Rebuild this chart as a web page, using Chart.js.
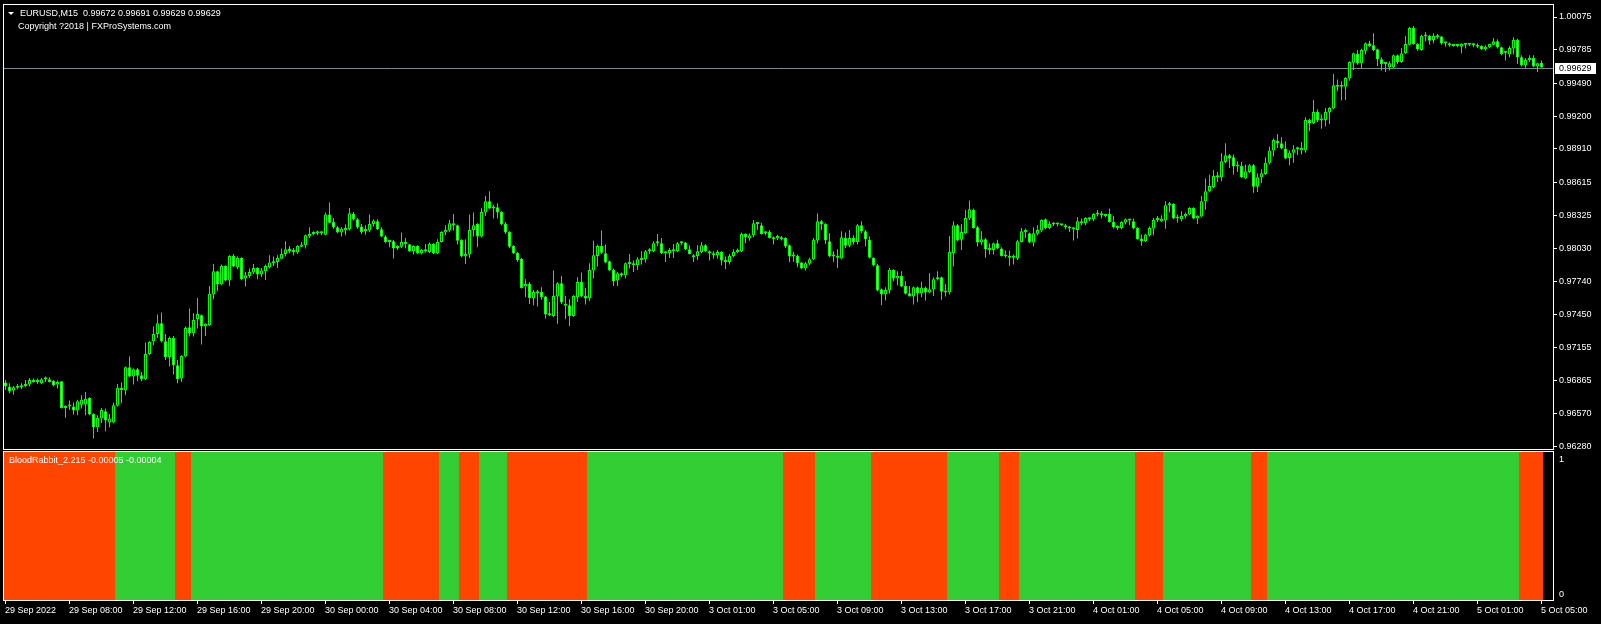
<!DOCTYPE html>
<html>
<head>
<meta charset="utf-8">
<title>EURUSD,M15</title>
<script src="https://cdn.jsdelivr.net/npm/chart.js@4.4.1/dist/chart.umd.min.js"></script>
<style>
  html, body { margin: 0; padding: 0; background: #000; overflow: hidden; }
  body { width: 1601px; height: 624px; position: relative; font-family: "Liberation Sans", Arial, sans-serif; }
  canvas { position: absolute; left: 0; }
  #main { top: -20px; }
  #sub { top: 431px; }
  .lbl { position: absolute; color: #fff; font-size: 9px; line-height: 11px; white-space: pre; }
  .tri { position: absolute; left: 8px; top: 12px; width: 0; height: 0;
         border-left: 3px solid transparent; border-right: 3px solid transparent; border-top: 3px solid #fff; }
</style>
</head>
<body>
<canvas id="main" width="1601" height="492"></canvas>
<canvas id="sub" width="1601" height="193"></canvas>
<div class="tri"></div>
<div class="lbl" style="left:20px;top:8px">EURUSD,M15  0.99672 0.99691 0.99629 0.99629</div>
<div class="lbl" style="left:18px;top:21px">Copyright ?2018 | FXProSystems.com</div>
<div class="lbl" style="left:9px;top:455px">BloodRabbit_2.215 -0.00005 -0.00004</div>
<script>
// EURUSD M15 bars, 29 Sep 04:00 -> 5 Oct 05:00
const opens = [
  0.96847,0.96811,0.96776,0.96800,0.96805,0.96817,0.96829,0.96870,0.96852,0.96841,
  0.96876,0.96876,0.96861,0.96829,0.96858,0.96623,0.96635,0.96635,0.96600,0.96650,
  0.96653,0.96711,0.96570,0.96452,0.96529,0.96594,0.96494,0.96494,0.96641,0.96800,
  0.96776,0.96982,0.96900,0.96964,0.96911,0.96876,0.97100,0.97212,0.97276,0.97371,
  0.97212,0.97070,0.97241,0.97000,0.96882,0.97076,0.97335,0.97282,0.97406,0.97441,
  0.97341,0.97353,0.97624,0.97830,0.97712,0.97877,0.97747,0.97965,0.97865,0.97947,
  0.97765,0.97788,0.97818,0.97859,0.97800,0.97830,0.97865,0.97900,0.97912,0.97941,
  0.97983,0.98030,0.98006,0.97995,0.98047,0.98059,0.98136,0.98159,0.98177,0.98165,
  0.98153,0.98330,0.98265,0.98218,0.98171,0.98189,0.98200,0.98336,0.98289,0.98224,
  0.98186,0.98189,0.98248,0.98271,0.98200,0.98136,0.98100,0.98094,0.98053,0.98047,
  0.98089,0.98068,0.98006,0.98053,0.97989,0.98018,0.98000,0.98071,0.97989,0.98089,
  0.98171,0.98189,0.98253,0.98236,0.98106,0.97959,0.97977,0.98195,0.98248,0.98136,
  0.98348,0.98448,0.98383,0.98395,0.98353,0.98248,0.98177,0.98053,0.97994,0.97941,
  0.97694,0.97718,0.97588,0.97647,0.97647,0.97606,0.97447,0.97435,0.97606,0.97724,
  0.97535,0.97529,0.97435,0.97600,0.97735,0.97612,0.97588,0.97836,0.97965,0.98053,
  0.97989,0.97918,0.97841,0.97747,0.97812,0.97794,0.97900,0.97900,0.97883,0.97936,
  0.97936,0.98006,0.98006,0.98077,0.98077,0.97989,0.97989,0.98018,0.98006,0.98077,
  0.98083,0.98024,0.97971,0.97965,0.98000,0.98059,0.98006,0.97989,0.97971,0.98000,
  0.97930,0.97912,0.97965,0.98000,0.98006,0.98159,0.98118,0.98147,0.98253,0.98236,
  0.98165,0.98177,0.98124,0.98118,0.98112,0.98124,0.98059,0.97959,0.97965,0.97907,
  0.97854,0.97895,0.97936,0.98101,0.98271,0.98248,0.98095,0.97959,0.97948,0.97942,
  0.98124,0.98054,0.98124,0.98089,0.98236,0.98183,0.98107,0.97948,0.97883,0.97671,
  0.97624,0.97659,0.97842,0.97765,0.97789,0.97700,0.97636,0.97606,0.97689,0.97636,
  0.97683,0.97642,0.97671,0.97759,0.97777,0.97642,0.97642,0.97989,0.98236,0.98107,
  0.98165,0.98295,0.98371,0.98218,0.98083,0.98112,0.98030,0.98018,0.98077,0.98030,
  0.97977,0.97965,0.97948,0.97942,0.98089,0.98177,0.98165,0.98083,0.98160,0.98189,
  0.98289,0.98212,0.98242,0.98254,0.98248,0.98236,0.98218,0.98212,0.98195,0.98271,
  0.98254,0.98289,0.98289,0.98330,0.98342,0.98330,0.98336,0.98265,0.98224,0.98212,
  0.98260,0.98289,0.98271,0.98212,0.98118,0.98095,0.98148,0.98207,0.98283,0.98271,
  0.98277,0.98413,0.98424,0.98295,0.98289,0.98313,0.98330,0.98389,0.98295,0.98313,
  0.98448,0.98536,0.98572,0.98665,0.98660,0.98795,0.98854,0.98836,0.98754,0.98760,
  0.98648,0.98707,0.98766,0.98577,0.98660,0.98689,0.98789,0.98895,0.98983,0.98960,
  0.98913,0.98830,0.98877,0.98907,0.98895,0.98895,0.99165,0.99136,0.99236,0.99160,
  0.99165,0.99231,0.99266,0.99472,0.99460,0.99460,0.99531,0.99672,0.99749,0.99666,
  0.99778,0.99843,0.99825,0.99790,0.99701,0.99660,0.99631,0.99631,0.99737,0.99678,
  0.99754,0.99831,0.99978,0.99837,0.99784,0.99902,0.99908,0.99872,0.99908,0.99902,
  0.99843,0.99831,0.99825,0.99819,0.99813,0.99837,0.99831,0.99837,0.99813,0.99819,
  0.99790,0.99808,0.99831,0.99860,0.99808,0.99760,0.99743,0.99796,0.99872,0.99719,
  0.99649,0.99695,0.99713,0.99637,0.99672
];
const highs = [
  0.96870,0.96841,0.96817,0.96835,0.96841,0.96870,0.96888,0.96882,0.96882,0.96888,
  0.96900,0.96894,0.96870,0.96864,0.96861,0.96647,0.96688,0.96670,0.96694,0.96735,
  0.96764,0.96717,0.96576,0.96559,0.96623,0.96617,0.96570,0.96670,0.96835,0.96847,
  0.96988,0.97076,0.96970,0.96976,0.96941,0.97200,0.97212,0.97341,0.97447,0.97465,
  0.97276,0.97253,0.97259,0.97047,0.97088,0.97341,0.97500,0.97459,0.97594,0.97447,
  0.97371,0.97700,0.97894,0.97836,0.97889,0.97883,0.97971,0.97983,0.97959,0.97953,
  0.97824,0.97853,0.97894,0.97865,0.97859,0.97889,0.97971,0.97959,0.97971,0.98030,
  0.98094,0.98053,0.98036,0.98059,0.98089,0.98153,0.98218,0.98183,0.98189,0.98183,
  0.98348,0.98436,0.98300,0.98230,0.98218,0.98242,0.98389,0.98353,0.98300,0.98248,
  0.98236,0.98330,0.98289,0.98289,0.98218,0.98147,0.98106,0.98106,0.98059,0.98171,
  0.98124,0.98071,0.98059,0.98059,0.98024,0.98071,0.98083,0.98077,0.98112,0.98183,
  0.98236,0.98283,0.98336,0.98242,0.98112,0.98112,0.98330,0.98348,0.98253,0.98389,
  0.98495,0.98536,0.98418,0.98430,0.98359,0.98265,0.98183,0.98059,0.98000,0.97947,
  0.97759,0.97735,0.97665,0.97665,0.97688,0.97612,0.97559,0.97836,0.97735,0.97788,
  0.97612,0.97582,0.97618,0.97777,0.97818,0.97682,0.97900,0.98100,0.98065,0.98189,
  0.98065,0.97924,0.97853,0.97824,0.97818,0.97906,0.97983,0.97924,0.97953,0.98006,
  0.98018,0.98036,0.98094,0.98159,0.98124,0.98006,0.98036,0.98071,0.98089,0.98094,
  0.98089,0.98059,0.97983,0.98059,0.98089,0.98071,0.98012,0.98006,0.98018,0.98006,
  0.97959,0.97983,0.98024,0.98030,0.98171,0.98165,0.98165,0.98283,0.98265,0.98259,
  0.98183,0.98195,0.98136,0.98153,0.98142,0.98130,0.98065,0.98001,0.97977,0.97912,
  0.97912,0.97948,0.98124,0.98342,0.98283,0.98254,0.98165,0.98006,0.98024,0.98183,
  0.98171,0.98195,0.98148,0.98248,0.98271,0.98195,0.98136,0.97954,0.97895,0.97677,
  0.97689,0.97859,0.97848,0.97830,0.97830,0.97742,0.97700,0.97695,0.97695,0.97736,
  0.97695,0.97812,0.97777,0.97830,0.97783,0.97718,0.98142,0.98271,0.98248,0.98248,
  0.98371,0.98454,0.98383,0.98230,0.98183,0.98124,0.98077,0.98083,0.98107,0.98042,
  0.98012,0.98012,0.97977,0.98107,0.98212,0.98207,0.98171,0.98218,0.98236,0.98289,
  0.98295,0.98271,0.98265,0.98260,0.98248,0.98248,0.98230,0.98218,0.98307,0.98295,
  0.98307,0.98307,0.98342,0.98371,0.98360,0.98336,0.98383,0.98318,0.98236,0.98271,
  0.98295,0.98289,0.98295,0.98218,0.98154,0.98160,0.98224,0.98301,0.98318,0.98324,
  0.98448,0.98442,0.98430,0.98330,0.98360,0.98348,0.98395,0.98395,0.98324,0.98495,
  0.98648,0.98683,0.98724,0.98707,0.98871,0.98960,0.98866,0.98860,0.98801,0.98795,
  0.98772,0.98777,0.98777,0.98695,0.98730,0.98836,0.98930,0.99001,0.99042,0.99013,
  0.98977,0.98895,0.98942,0.98930,0.98972,0.99189,0.99177,0.99342,0.99260,0.99213,
  0.99272,0.99278,0.99572,0.99524,0.99507,0.99542,0.99684,0.99760,0.99784,0.99795,
  0.99849,0.99866,0.99931,0.99795,0.99719,0.99672,0.99684,0.99743,0.99743,0.99802,
  0.99908,0.99990,0.99996,0.99843,0.99919,0.99943,0.99919,0.99931,0.99925,0.99908,
  0.99855,0.99849,0.99831,0.99837,0.99843,0.99843,0.99843,0.99843,0.99843,0.99825,
  0.99825,0.99837,0.99890,0.99878,0.99813,0.99778,0.99819,0.99896,0.99884,0.99737,
  0.99713,0.99737,0.99737,0.99672,0.99691
];
const lows = [
  0.96782,0.96753,0.96738,0.96788,0.96788,0.96805,0.96811,0.96847,0.96835,0.96835,
  0.96852,0.96847,0.96811,0.96794,0.96617,0.96535,0.96605,0.96564,0.96559,0.96617,
  0.96559,0.96559,0.96352,0.96411,0.96488,0.96417,0.96452,0.96488,0.96635,0.96664,
  0.96735,0.96894,0.96829,0.96858,0.96858,0.96870,0.97088,0.97177,0.97241,0.97200,
  0.97047,0.96988,0.96917,0.96841,0.96852,0.97070,0.97253,0.97253,0.97324,0.97182,
  0.97259,0.97347,0.97582,0.97653,0.97706,0.97741,0.97700,0.97865,0.97847,0.97753,
  0.97694,0.97771,0.97806,0.97759,0.97777,0.97753,0.97853,0.97877,0.97859,0.97936,
  0.97959,0.97989,0.97971,0.97983,0.98042,0.98030,0.98124,0.98147,0.98147,0.98147,
  0.98147,0.98253,0.98206,0.98165,0.98136,0.98147,0.98189,0.98277,0.98206,0.98159,
  0.98153,0.98177,0.98224,0.98195,0.98130,0.98077,0.98042,0.97942,0.98018,0.98036,
  0.98030,0.98000,0.97977,0.97983,0.97977,0.97994,0.97989,0.97983,0.97983,0.98083,
  0.98147,0.98177,0.98189,0.98065,0.97953,0.97894,0.97947,0.98136,0.98042,0.98130,
  0.98318,0.98377,0.98295,0.98295,0.98236,0.98159,0.98036,0.97983,0.97912,0.97677,
  0.97600,0.97541,0.97529,0.97518,0.97577,0.97412,0.97435,0.97423,0.97365,0.97541,
  0.97406,0.97347,0.97429,0.97559,0.97600,0.97535,0.97565,0.97765,0.97871,0.97983,
  0.97900,0.97830,0.97700,0.97700,0.97777,0.97765,0.97853,0.97824,0.97841,0.97889,
  0.97906,0.97983,0.98000,0.98053,0.97983,0.97912,0.97947,0.97947,0.98000,0.98059,
  0.98018,0.97977,0.97912,0.97930,0.97989,0.98000,0.97924,0.97941,0.97941,0.97883,
  0.97847,0.97889,0.97953,0.97989,0.98000,0.98077,0.98100,0.98130,0.98195,0.98153,
  0.98147,0.98118,0.98065,0.98106,0.98101,0.98036,0.97912,0.97912,0.97865,0.97848,
  0.97836,0.97883,0.97930,0.98077,0.98195,0.98071,0.97954,0.97912,0.97859,0.97936,
  0.98036,0.98042,0.98065,0.98065,0.98165,0.98048,0.97942,0.97871,0.97653,0.97530,
  0.97571,0.97630,0.97742,0.97706,0.97689,0.97624,0.97606,0.97536,0.97559,0.97600,
  0.97571,0.97636,0.97612,0.97748,0.97577,0.97606,0.97624,0.97871,0.98095,0.98018,
  0.98160,0.98283,0.98207,0.98048,0.98059,0.97948,0.97977,0.97977,0.98024,0.97959,
  0.97948,0.97877,0.97889,0.97930,0.98083,0.98124,0.98077,0.98048,0.98148,0.98177,
  0.98201,0.98201,0.98230,0.98224,0.98230,0.98201,0.98177,0.98101,0.98118,0.98236,
  0.98236,0.98271,0.98271,0.98313,0.98295,0.98307,0.98260,0.98207,0.98195,0.98201,
  0.98242,0.98236,0.98201,0.98107,0.98054,0.98089,0.98136,0.98148,0.98265,0.98265,
  0.98206,0.98348,0.98289,0.98260,0.98271,0.98295,0.98324,0.98289,0.98248,0.98307,
  0.98372,0.98530,0.98566,0.98619,0.98625,0.98783,0.98742,0.98683,0.98707,0.98654,
  0.98642,0.98695,0.98524,0.98530,0.98607,0.98683,0.98772,0.98842,0.98919,0.98907,
  0.98819,0.98766,0.98789,0.98854,0.98860,0.98877,0.99066,0.99130,0.99148,0.99089,
  0.99107,0.99130,0.99260,0.99419,0.99337,0.99342,0.99513,0.99607,0.99654,0.99625,
  0.99743,0.99808,0.99772,0.99642,0.99602,0.99590,0.99602,0.99625,0.99660,0.99672,
  0.99749,0.99825,0.99831,0.99778,0.99778,0.99860,0.99831,0.99843,0.99884,0.99831,
  0.99813,0.99813,0.99813,0.99808,0.99754,0.99796,0.99819,0.99808,0.99802,0.99784,
  0.99778,0.99802,0.99825,0.99796,0.99737,0.99690,0.99719,0.99743,0.99660,0.99637,
  0.99625,0.99678,0.99631,0.99590,0.99629
];
const closes = [
  0.96811,0.96767,0.96805,0.96817,0.96823,0.96832,0.96870,0.96852,0.96870,0.96876,
  0.96888,0.96852,0.96823,0.96852,0.96623,0.96635,0.96641,0.96600,0.96682,0.96694,
  0.96703,0.96564,0.96452,0.96535,0.96605,0.96511,0.96529,0.96647,0.96800,0.96782,
  0.96982,0.96900,0.96964,0.96906,0.96876,0.97100,0.97206,0.97276,0.97371,0.97212,
  0.97070,0.97241,0.97000,0.96876,0.97082,0.97329,0.97282,0.97400,0.97453,0.97341,
  0.97365,0.97630,0.97830,0.97712,0.97877,0.97747,0.97965,0.97871,0.97947,0.97759,
  0.97794,0.97824,0.97859,0.97800,0.97836,0.97877,0.97906,0.97918,0.97947,0.97983,
  0.98024,0.98006,0.98000,0.98053,0.98065,0.98147,0.98159,0.98171,0.98165,0.98171,
  0.98330,0.98259,0.98218,0.98171,0.98206,0.98212,0.98342,0.98289,0.98218,0.98177,
  0.98195,0.98248,0.98277,0.98200,0.98136,0.98089,0.98089,0.98030,0.98030,0.98089,
  0.98071,0.98006,0.98053,0.97989,0.98018,0.98006,0.98071,0.97989,0.98089,0.98177,
  0.98195,0.98253,0.98236,0.98100,0.97959,0.97983,0.98195,0.98236,0.98136,0.98353,
  0.98448,0.98383,0.98401,0.98348,0.98242,0.98171,0.98047,0.97989,0.97930,0.97682,
  0.97718,0.97594,0.97647,0.97635,0.97600,0.97447,0.97441,0.97612,0.97724,0.97553,
  0.97524,0.97435,0.97612,0.97735,0.97606,0.97588,0.97841,0.97971,0.98053,0.97994,
  0.97906,0.97836,0.97741,0.97812,0.97794,0.97900,0.97894,0.97883,0.97936,0.97930,
  0.98006,0.98012,0.98077,0.98083,0.97989,0.97994,0.98018,0.98006,0.98077,0.98083,
  0.98024,0.97983,0.97953,0.98006,0.98059,0.98006,0.97989,0.97971,0.98000,0.97924,
  0.97912,0.97965,0.98000,0.98012,0.98159,0.98130,0.98147,0.98253,0.98248,0.98159,
  0.98177,0.98124,0.98112,0.98142,0.98124,0.98048,0.97959,0.97965,0.97901,0.97854,
  0.97901,0.97936,0.98107,0.98271,0.98242,0.98101,0.97959,0.97965,0.97965,0.98130,
  0.98054,0.98124,0.98089,0.98236,0.98183,0.98112,0.97948,0.97883,0.97659,0.97624,
  0.97665,0.97842,0.97765,0.97789,0.97695,0.97630,0.97606,0.97689,0.97636,0.97683,
  0.97642,0.97671,0.97759,0.97771,0.97648,0.97653,0.98001,0.98236,0.98101,0.98177,
  0.98301,0.98377,0.98212,0.98083,0.98112,0.98024,0.98018,0.98077,0.98030,0.97965,
  0.97959,0.97948,0.97954,0.98095,0.98183,0.98189,0.98083,0.98165,0.98195,0.98283,
  0.98212,0.98248,0.98260,0.98242,0.98236,0.98218,0.98207,0.98201,0.98271,0.98254,
  0.98301,0.98301,0.98336,0.98342,0.98324,0.98318,0.98265,0.98218,0.98212,0.98265,
  0.98289,0.98277,0.98207,0.98112,0.98095,0.98154,0.98212,0.98283,0.98295,0.98295,
  0.98413,0.98424,0.98295,0.98307,0.98318,0.98336,0.98389,0.98295,0.98318,0.98448,
  0.98536,0.98583,0.98671,0.98660,0.98801,0.98854,0.98825,0.98754,0.98760,0.98660,
  0.98713,0.98766,0.98577,0.98660,0.98695,0.98789,0.98895,0.98989,0.98960,0.98913,
  0.98825,0.98877,0.98907,0.98913,0.98919,0.99165,0.99136,0.99236,0.99160,0.99177,
  0.99236,0.99272,0.99472,0.99460,0.99466,0.99536,0.99678,0.99754,0.99666,0.99784,
  0.99843,0.99819,0.99784,0.99701,0.99660,0.99666,0.99666,0.99737,0.99678,0.99754,
  0.99837,0.99978,0.99837,0.99790,0.99908,0.99914,0.99866,0.99908,0.99896,0.99843,
  0.99855,0.99825,0.99819,0.99831,0.99837,0.99831,0.99837,0.99825,0.99831,0.99790,
  0.99813,0.99837,0.99860,0.99808,0.99749,0.99772,0.99802,0.99872,0.99719,0.99649,
  0.99695,0.99713,0.99637,0.99666,0.99629
];

// price scale labels on the right
const priceTicks = [1.00075, 0.99785, 0.99490, 0.99200, 0.98910, 0.98615, 0.98325,
                    0.98030, 0.97740, 0.97450, 0.97155, 0.96865, 0.96570, 0.96280];
const priceMin = 0.96260, priceMax = 1.00181;

// time labels, one every 16 bars
const labelStep = 16;
const timeLabels = ['29 Sep 2022', '29 Sep 08:00', '29 Sep 12:00', '29 Sep 16:00', '29 Sep 20:00',
  '30 Sep 00:00', '30 Sep 04:00', '30 Sep 08:00', '30 Sep 12:00', '30 Sep 16:00', '30 Sep 20:00',
  '3 Oct 01:00', '3 Oct 05:00', '3 Oct 09:00', '3 Oct 13:00', '3 Oct 17:00', '3 Oct 21:00',
  '4 Oct 01:00', '4 Oct 05:00', '4 Oct 09:00', '4 Oct 13:00', '4 Oct 17:00', '4 Oct 21:00',
  '5 Oct 01:00', '5 Oct 05:00'];

// BloodRabbit signal: [state, number of bars], 1 = up (green), 0 = down (red)
const signalRuns = [[0,28],[1,15],[0,4],[1,48],[0,14],[1,5],[0,5],[1,7],[0,20],[1,49],[0,8],
  [1,14],[0,19],[1,13],[0,5],[1,29],[0,7],[1,22],[0,4],[1,63],[0,6]];

const LIME = '#00ff00', UP = '#32cd32', DOWN = '#ff4500';
const FONT = '"Liberation Sans", Arial, sans-serif';
Chart.defaults.font.family = FONT;
Chart.defaults.font.size = 9;
Chart.defaults.color = '#ffffff';

const n = closes.length;
const idx = closes.map((_, i) => i);
const signal = [];
signalRuns.forEach(([s, len]) => { for (let k = 0; k < len; k++) signal.push(s); });
const lastPrice = closes[n - 1];

// white frame round the plot area
const frame = {
  id: 'frame',
  afterDatasetsDraw(chart) {
    const { ctx, chartArea: a } = chart;
    ctx.save();
    ctx.strokeStyle = '#ffffff';
    ctx.lineWidth = 1;
    ctx.strokeRect(a.left - 0.5, a.top - 0.5, a.right - a.left + 1, a.bottom - a.top + 1);
    ctx.restore();
  }
};

// bid line and price tag
const bidLine = {
  id: 'bidLine',
  beforeDatasetsDraw(chart) {
    const { ctx, chartArea: a } = chart;
    const y = Math.round(chart.scales.y.getPixelForValue(lastPrice)) + 0.5;
    ctx.save();
    ctx.strokeStyle = '#778899';
    ctx.lineWidth = 1;
    ctx.beginPath();
    ctx.moveTo(a.left, y);
    ctx.lineTo(a.right, y);
    ctx.stroke();
    ctx.restore();
  },
  afterDraw(chart) {
    const { ctx, chartArea: a } = chart;
    const y = Math.round(chart.scales.y.getPixelForValue(lastPrice));
    ctx.save();
    ctx.fillStyle = '#ffffff';
    ctx.fillRect(a.right + 2, y - 5, 41, 11);
    ctx.fillStyle = '#000000';
    ctx.font = '9px ' + FONT;
    ctx.textBaseline = 'middle';
    ctx.fillText(lastPrice.toFixed(5), a.right + 6, y + 0.5);
    ctx.restore();
  }
};

new Chart(document.getElementById('main'), {
  type: 'bar',
  data: {
    datasets: [
      {
        label: 'body',
        data: idx.map(i => ({ x: i, y: [opens[i], closes[i]] })),
        backgroundColor: idx.map(i => closes[i] >= opens[i] ? '#000000' : '#ffffff'),
        borderColor: LIME,
        borderWidth: 1,
        borderSkipped: false,
        barThickness: 3,
        minBarLength: 2,
        inflateAmount: 0,
        grouped: false,
        order: 0
      },
      {
        label: 'wick',
        data: idx.map(i => ({ x: i, y: [lows[i], highs[i]] })),
        backgroundColor: LIME,
        borderWidth: 0,
        barThickness: 1,
        inflateAmount: 0,
        grouped: false,
        order: 1
      }
    ]
  },
  options: {
    responsive: false,
    animation: false,
    events: [],
    layout: { padding: { top: 25, left: 4, right: 0, bottom: 23 } },
    plugins: { legend: { display: false }, tooltip: { enabled: false } },
    scales: {
      x: { type: 'linear', display: false, offset: false, min: -0.375, max: 386.875 },
      y: {
        position: 'right',
        min: priceMin,
        max: priceMax,
        afterBuildTicks: s => { s.ticks = priceTicks.map(v => ({ value: v })); },
        afterFit: s => { s.width = 48; },
        border: { display: false },
        grid: { drawOnChartArea: false, drawTicks: true, tickLength: 4, color: '#ffffff' },
        ticks: { padding: 2, color: '#ffffff', callback: v => v.toFixed(5) }
      }
    }
  },
  plugins: [bidLine, frame]
});

new Chart(document.getElementById('sub'), {
  type: 'bar',
  data: {
    datasets: [{
      label: 'BloodRabbit',
      data: idx.map(i => ({ x: i, y: 1 })),
      backgroundColor: signal.map(s => s ? UP : DOWN),
      borderWidth: 0,
      barThickness: 4,
      inflateAmount: 0,
      grouped: false
    }]
  },
  options: {
    responsive: false,
    animation: false,
    events: [],
    layout: { padding: { top: 21, left: 4, right: 0, bottom: 0 } },
    plugins: { legend: { display: false }, tooltip: { enabled: false } },
    scales: {
      x: {
        type: 'linear',
        offset: false,
        min: -0.25,
        max: 387,
        afterBuildTicks: s => { s.ticks = timeLabels.map((_, k) => ({ value: k * labelStep })); },
        afterFit: s => { s.height = 24; },
        border: { display: false },
        grid: { offset: false, drawOnChartArea: false, drawTicks: true, tickLength: 4, color: '#ffffff' },
        ticks: {
          align: 'start', padding: 1, maxRotation: 0, minRotation: 0, autoSkip: false,
          color: '#ffffff', callback: v => timeLabels[Math.round(v / labelStep)]
        }
      },
      y: {
        position: 'right',
        min: 0,
        max: 1,
        // the 0 and 1 levels are printed just inside the window edges
        afterBuildTicks: s => { s.ticks = [{ value: 0.04 }, { value: 0.95 }]; },
        afterFit: s => { s.width = 48; },
        border: { display: false },
        grid: { drawOnChartArea: false, drawTicks: false },
        ticks: { padding: 6, color: '#ffffff', callback: v => (v > 0.5 ? '1' : '0') }
      }
    }
  },
  plugins: [frame]
});
</script>
</body>
</html>
